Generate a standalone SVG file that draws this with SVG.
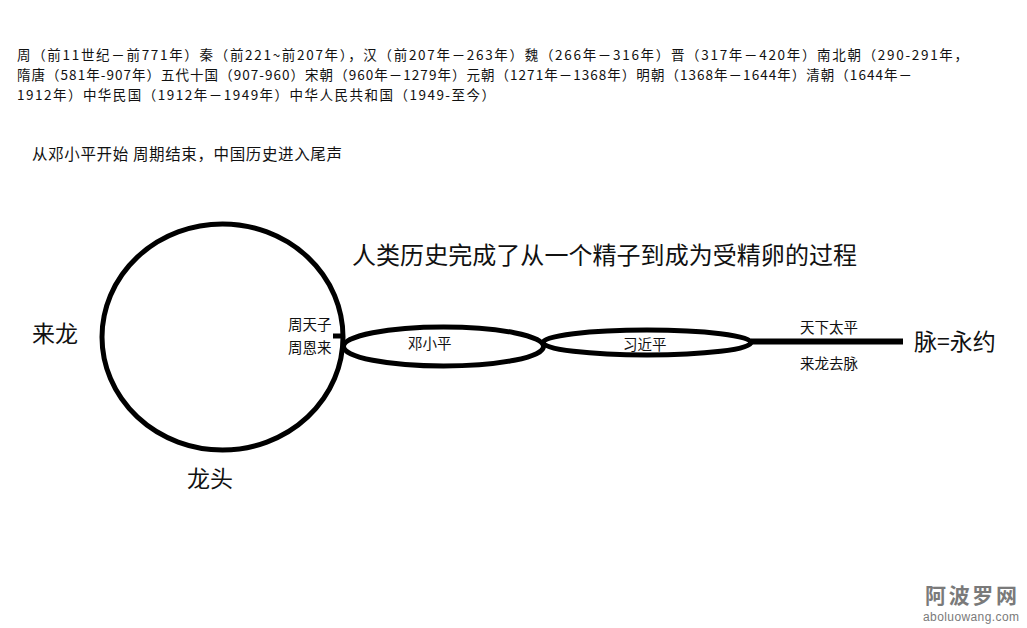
<svg xmlns="http://www.w3.org/2000/svg" width="1027" height="628" viewBox="0 0 1027 628">
<style>
.t{font-family:"Noto Sans CJK SC","Noto Sans",sans-serif;fill:#111}
.s{font-size:13.5px}
.m{font-size:14.5px}
.b{font-size:23px}
.shape{fill:none;stroke:#000;stroke-width:5}
.wm{fill:#7a7a7a}
</style>
<rect width="1027" height="628" fill="#fff"/>
<g id="header">
<text class="t s" x="17" y="60" textLength="951" lengthAdjust="spacing">周（前11世纪－前771年）秦（前221~前207年），汉（前207年－263年）魏（266年－316年）晋（317年－420年）南北朝（290-291年，</text>
<text class="t s" x="17" y="80" textLength="895" lengthAdjust="spacing">隋唐（581年-907年）五代十国（907-960）宋朝（960年－1279年）元朝（1271年－1368年）明朝（1368年－1644年）清朝（1644年－</text>
<text class="t s" x="17" y="100" textLength="478" lengthAdjust="spacing">1912年）中华民国（1912年－1949年）中华人民共和国（1949-至今）</text>
<text class="t" x="32" y="160" font-size="15.5" textLength="310" lengthAdjust="spacing">从邓小平开始 周期结束，中国历史进入尾声</text>
<text class="t" x="352" y="264" font-size="24" textLength="505" lengthAdjust="spacing">人类历史完成了从一个精子到成为受精卵的过程</text>
</g>
<g id="connectors">
<line class="shape" x1="333" y1="336" x2="345" y2="336"/>
<line x1="751" y1="341.5" x2="903" y2="341.5" stroke="#000" stroke-width="6"/>
</g>
<g id="node-circle">
<ellipse class="shape" cx="222.5" cy="337" rx="120.5" ry="113"/>
<text class="t b" x="32" y="342">来龙</text>
<text class="t b" x="187" y="487">龙头</text>
<text class="t m" x="288" y="330">周天子</text>
<text class="t m" x="288" y="353">周恩来</text>
</g>
<g id="node-deng">
<ellipse class="shape" cx="443.5" cy="346.5" rx="100" ry="19.5"/>
<text class="t m" x="408" y="349">邓小平</text>
</g>
<g id="node-xi">
<ellipse class="shape" cx="647" cy="342.5" rx="104" ry="12.5"/>
<text class="t m" x="623" y="350">习近平</text>
</g>
<g id="node-end">
<text class="t m" x="800" y="333">天下太平</text>
<text class="t m" x="800" y="369">来龙去脉</text>
<text class="t b" x="914" y="350">脉=永约</text>
</g>
<g id="watermark">
<text class="wm" x="925" y="603" font-family="Noto Sans CJK SC, sans-serif" font-size="21" font-weight="bold" textLength="92" lengthAdjust="spacing">阿波罗网</text>
<text class="wm" x="923" y="621" font-family="Liberation Sans, sans-serif" font-size="12" textLength="96" lengthAdjust="spacing">aboluowang.com</text>
</g>
</svg>
